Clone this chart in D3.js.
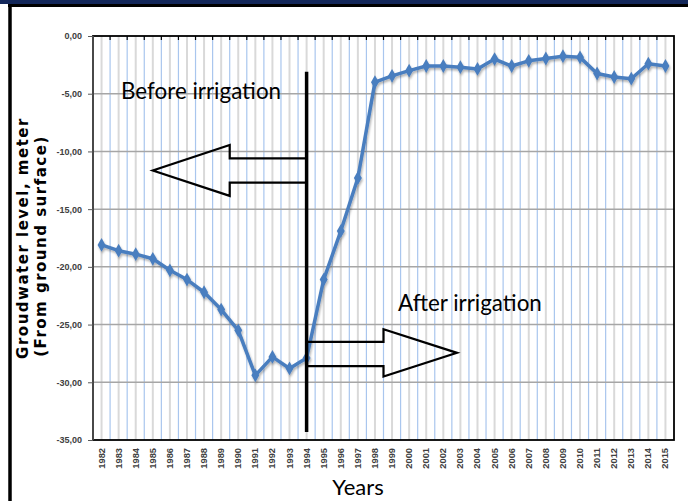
<!DOCTYPE html>
<html>
<head>
<meta charset="utf-8">
<script src="https://cdn.jsdelivr.net/npm/d3@7"></script>
<style>
  html, body { margin: 0; padding: 0; background: #fff; }
  svg { display: block; }
</style>
</head>
<body>
<svg id="chart" width="688" height="501"></svg>
<script>
// ---- data ----
const years = ["1982","1983","1984","1985","1986","1987","1988","1989","1990","1991","1992","1993","1994","1995","1996","1997","1998","1999","2000","2001","2002","2003","2004","2005","2006","2007","2008","2009","2010","2011","2012","2013","2014","2015"];
const groundwaterLevel = [-18.1,-18.6,-18.9,-19.3,-20.3,-21.1,-22.2,-23.7,-25.5,-29.4,-27.8,-28.8,-27.9,-21.1,-16.9,-12.3,-4.0,-3.45,-3.0,-2.6,-2.6,-2.7,-2.85,-2.0,-2.6,-2.15,-1.95,-1.75,-1.85,-3.25,-3.55,-3.7,-2.4,-2.6];
const yTicks = [0,-5,-10,-15,-20,-25,-30,-35];
const yTitleLines = ["Groudwater level, meter", "(From ground surface)"];
const xTitle = "Years";
const noteBefore = "Before irrigation";
const noteAfter = "After irrigation";
const irrigationStartYear = "1994";

// ---- layout ----
const svg = d3.select("#chart");
const L = 93, R = 674, T = 36, B = 440;

const x = d3.scaleBand().domain(years).range([L, R]).padding(0);
const y = d3.scaleLinear().domain([-35, 0]).range([B, T]);
const bw = x.bandwidth();
const cx = d => x(d) + bw / 2;

// frame
svg.append("rect").attr("x", 0).attr("y", 0).attr("width", 688).attr("height", 4).attr("fill", "#13275a");
svg.append("line").attr("x1", 8).attr("x2", 688).attr("y1", 5.5).attr("y2", 5.5).attr("stroke", "#000").attr("stroke-width", 3);
svg.append("line").attr("x1", 10).attr("x2", 10).attr("y1", 4).attr("y2", 501).attr("stroke", "#000").attr("stroke-width", 3.5);

// defs
const defs = svg.append("defs");
const f = defs.append("filter").attr("id", "sh").attr("x", "-10%").attr("y", "-10%").attr("width", "120%").attr("height", "130%");
f.append("feDropShadow").attr("dx", 1).attr("dy", 2).attr("stdDeviation", 1.3).attr("flood-color", "#000").attr("flood-opacity", 0.3);

// vertical gridlines: grey at category centres, blue at category boundaries
const grid = svg.append("g");
grid.selectAll("line.vc").data(years).enter().append("line")
  .attr("x1", d => cx(d)).attr("x2", d => cx(d)).attr("y1", T).attr("y2", B)
  .attr("stroke", "#d9d9d9").attr("stroke-width", 2);
grid.selectAll("line.vb").data(years.slice(1)).enter().append("line")
  .attr("x1", d => x(d)).attr("x2", d => x(d)).attr("y1", T).attr("y2", B)
  .attr("stroke", "#a9c6ee").attr("stroke-width", 1.2);
// horizontal gridlines
grid.selectAll("line.h").data(yTicks.slice(1, -1)).enter().append("line")
  .attr("x1", L).attr("x2", R).attr("y1", d => y(d)).attr("y2", d => y(d))
  .attr("stroke", "#a6a6a6").attr("stroke-width", 1.5);

// plot border
svg.append("rect").attr("x", L).attr("y", T).attr("width", R - L).attr("height", B - T)
  .attr("fill", "none").attr("stroke", "#000").attr("stroke-width", 1.8);
svg.append("line").attr("x1", L).attr("x2", L).attr("y1", T).attr("y2", B).attr("stroke", "#595959").attr("stroke-width", 1.5);

// top axis ticks (category axis crosses at 0)
svg.append("g").selectAll("line").data(years.slice(1)).enter().append("line")
  .attr("x1", d => x(d)).attr("x2", d => x(d)).attr("y1", T).attr("y2", T + 4)
  .attr("stroke", "#000").attr("stroke-width", 1.2);

// y axis
const yAxis = d3.axisLeft(y).tickValues(yTicks).tickSize(5).tickPadding(6)
  .tickFormat(v => v.toFixed(2).replace(".", ","));
const gy = svg.append("g").attr("transform", `translate(${L},0)`).call(yAxis);
gy.select(".domain").remove();
gy.selectAll(".tick line").attr("stroke", "#595959");
gy.selectAll(".tick text").attr("font-family", "Liberation Sans, Arial, sans-serif")
  .attr("font-size", 9).attr("font-weight", "bold").attr("fill", "#404040");

// x axis labels (bottom)
const xAxis = d3.axisBottom(x).tickSize(0).tickPadding(0);
const gx = svg.append("g").attr("transform", `translate(0,${B})`).call(xAxis);
gx.select(".domain").remove();
gx.selectAll(".tick text")
  .attr("font-family", "Liberation Sans, Arial, sans-serif").attr("font-size", 9.3).attr("font-weight", "bold")
  .attr("fill", "#404040")
  .attr("text-anchor", "end").attr("dy", null).attr("y", 0)
  .attr("dominant-baseline", "central")
  .attr("transform", "translate(0,8) rotate(-90)");

// x title
svg.append("text").attr("x", 358).attr("y", 495).attr("text-anchor", "middle")
  .attr("font-family", "Lato, sans-serif").attr("font-size", 22).attr("fill", "#000").text(xTitle);

// y title
const yt = svg.append("text").attr("transform", "translate(28,238) rotate(-90)").attr("text-anchor", "middle")
  .attr("font-family", "DejaVu Sans, sans-serif").attr("font-weight", "bold").attr("font-size", 15)
  .attr("letter-spacing", 1.5).attr("fill", "#000");
yt.append("tspan").attr("x", 0).attr("y", 0).text(yTitleLines[0]);
yt.append("tspan").attr("x", -8).attr("y", 17.5).text(yTitleLines[1]);

// data line
const lineGen = d3.line().x((d, i) => cx(years[i])).y(d => y(d));
const series = svg.append("g").attr("filter", "url(#sh)");
series.append("path").datum(groundwaterLevel).attr("d", lineGen)
  .attr("fill", "none").attr("stroke", "#4a7ebf").attr("stroke-width", 3.5).attr("stroke-linejoin", "round");
series.selectAll("path.m").data(groundwaterLevel).enter().append("path")
  .attr("d", d3.symbol().type(d3.symbolDiamond).size(55))
  .attr("transform", (d, i) => `translate(${cx(years[i])},${y(d)})`)
  .attr("fill", "#4a7ebf");

// annotations
const xv = cx(irrigationStartYear);
svg.append("line").attr("x1", xv).attr("x2", xv).attr("y1", y(-3.1)).attr("y2", y(-34.3))
  .attr("stroke", "#000").attr("stroke-width", 3.5);

// left arrow (before)
const la = [
  [xv, y(-10.6)], [x("1990"), y(-10.6)], [x("1990"), y(-9.45)],
  [cx("1985"), y(-11.65)],
  [x("1990"), y(-13.85)], [x("1990"), y(-12.7)], [xv, y(-12.7)]
];
svg.append("path").attr("d", d3.line()(la)).attr("fill", "none").attr("stroke", "#000").attr("stroke-width", 2.2).attr("stroke-linejoin", "miter");

// right arrow (after)
const tipX = x("2003") + bw * 0.3;
const ra = [
  [xv, y(-26.5)], [x("1999"), y(-26.5)], [x("1999"), y(-25.4)],
  [tipX, y(-27.45)],
  [x("1999"), y(-29.5)], [x("1999"), y(-28.6)], [xv, y(-28.6)]
];
svg.append("path").attr("d", d3.line()(ra)).attr("fill", "none").attr("stroke", "#000").attr("stroke-width", 2.2).attr("stroke-linejoin", "miter");

svg.append("text").attr("x", 121).attr("y", 99).attr("font-family", "Lato, sans-serif").attr("font-size", 22.4)
  .attr("fill", "#000").text(noteBefore);
svg.append("text").attr("x", 398).attr("y", 311).attr("font-family", "Lato, sans-serif").attr("font-size", 22.4)
  .attr("fill", "#000").text(noteAfter);
</script>
</body>
</html>
